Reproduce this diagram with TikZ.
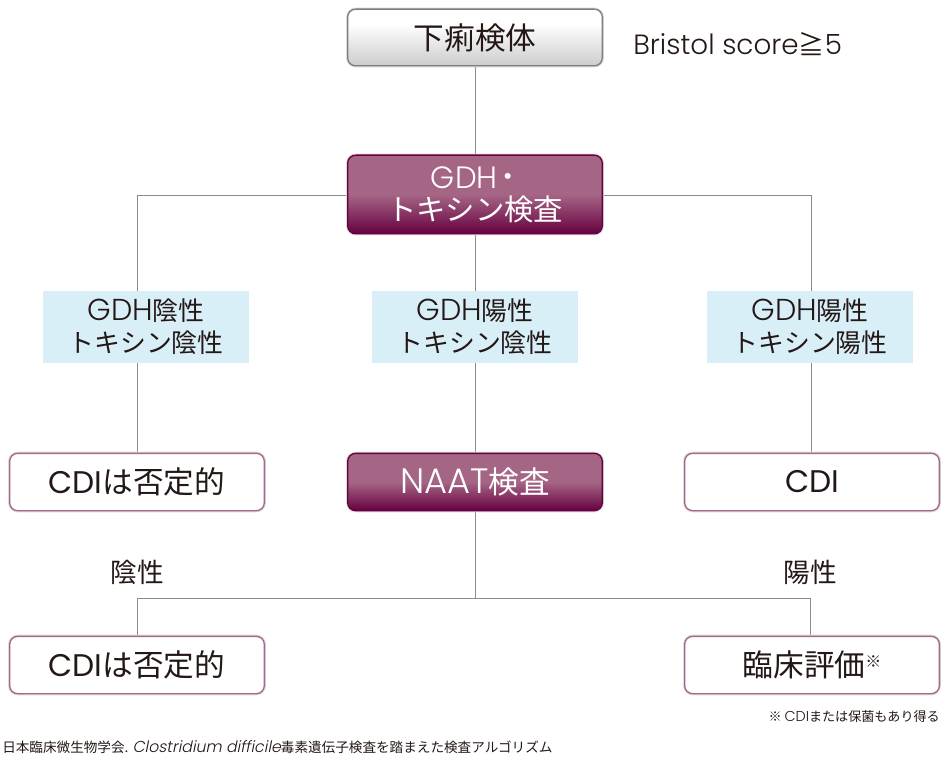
\documentclass[tikz,border=0pt]{standalone}
\usepackage{fontspec}
\usetikzlibrary{backgrounds}
\setmainfont{Noto Sans CJK JP}
\newfontfamily\lat{Poppins}
\newfontfamily\latl{Poppins Light}
\newcommand{\ltn}[2][1]{{\lat\addfontfeature{Scale=#1}#2}}
\newcommand{\ltl}[2][1]{{\latl\addfontfeature{Scale=#1}#2}}
\definecolor{ink}{HTML}{231815}
\definecolor{plum}{HTML}{660040}
\definecolor{mauve}{HTML}{A56585}
\definecolor{edgeg}{HTML}{7F7F7F}
\definecolor{rosee}{HTML}{A5688B}
\definecolor{paleb}{HTML}{D9EFF8}
\definecolor{conn}{HTML}{8C8C8C}
\pgfdeclareverticalshading{plumshade}{100bp}{color(0bp)=(plum); color(25bp)=(plum); color(50bp)=(mauve); color(100bp)=(mauve)}
\pgfdeclareverticalshading{greyshade}{100bp}{color(0bp)=(black!20); color(25bp)=(black!20); color(62bp)=(white); color(100bp)=(white)}
\tikzset{
  x=0.75pt,y=-0.75pt,
  box/.style={rounded corners=6pt,inner sep=0pt,minimum width=191pt,align=center,line width=1pt,text=ink,font=\fontsize{23}{24}\selectfont,
    preaction={draw=black!14,line width=2.4pt}},
  greybox/.style={box,draw=edgeg,shading=greyshade},
  plumbox/.style={box,draw=plum,shading=plumshade,text=white},
  whitebox/.style={box,draw=rosee,fill=white},
  bluebox/.style={fill=paleb,inner sep=0pt,minimum width=154.5pt,minimum height=54pt,align=center,text=ink,font=\fontsize{19.4}{24}\selectfont},
  lbl/.style={inner sep=0pt,text=ink,font=\fontsize{20}{24}\selectfont},
  small/.style={inner sep=0pt,text=ink},
  wire/.style={draw=conn,line width=0.65pt}
}
\begin{document}
\begin{tikzpicture}
\useasboundingbox (0,0) rectangle (945,762);
\node[greybox,minimum height=42.5pt] (top) at (475,37.5) {下痢検体};
\node[plumbox,minimum height=59pt,font=\fontsize{22}{24}\selectfont] (gdh) at (475,194.5) {\ltl[1.05]{GDH}\raisebox{2.4pt}{\fontsize{16}{16}\selectfont\bfseries ・}\hspace{-2pt}\\トキシン検査};
\node[bluebox] (b1) at (146,327) {\ltl[1.17]{GDH}陰性\\トキシン陰性};
\node[bluebox] (b2) at (475,327) {\ltl[1.17]{GDH}陽性\\トキシン陰性};
\node[bluebox] (b3) at (810,327) {\ltl[1.17]{GDH}陽性\\トキシン陽性};
\node[whitebox,minimum height=43pt] (c1) at (137,482) {\ltn[1.02]{CDI}は否定的};
\node[plumbox,minimum height=43pt] (c2) at (475,482) {\ltl[1.15]{NAAT}検査};
\node[whitebox,minimum height=43pt] (c3) at (812,482) {\ltn[1.02]{CDI}};
\node[whitebox,minimum height=43pt] (d1) at (137,665) {\ltn[1.02]{CDI}は否定的};
\node[whitebox,minimum height=43pt] (d3) at (812,665) {臨床評価\raisebox{7pt}{\fontsize{12}{12}\selectfont ※}};
\node[lbl,anchor=west,font=\fontsize{19.5}{24}\selectfont] (bs) at (633,44) {\ltl[1.07]{Bristol score}≧\ltl[1.07]{5}};
\node[lbl] (neg) at (137,572) {陰性};
\node[lbl] (pos) at (810,572) {陽性};
\node[small,anchor=east,font=\fontsize{9.8}{12}\selectfont] (note) at (940,717) {※ \ltl[1.1]{CDI}または保菌もあり得る};
\node[small,anchor=west,font=\fontsize{10.2}{12}\selectfont] (src) at (2,747) {日本臨床微生物学会. {\latl\addfontfeature{FakeSlant=0.2,Scale=1.16}Clostridium difficile}毒素遺伝子検査を踏まえた検査アルゴリズム};
\coordinate (j) at (475,598);
\coordinate (jr) at (810,598);
\begin{scope}[on background layer]
\draw[wire] (top) -- (gdh);
\draw[wire] (gdh) -- (b2);
\draw[wire] (b2) -- (c2);
\draw[wire] (gdh.west |- 0,195) -| (c1.north);
\draw[wire] (gdh.east |- 0,195) -| (811,453);
\draw[wire] (c2) -- (j);
\draw[wire] (j) -| (d1.north);
\draw[wire] (j) -- (jr) -- (jr |- d3.north);
\end{scope}
\end{tikzpicture}
\end{document}
